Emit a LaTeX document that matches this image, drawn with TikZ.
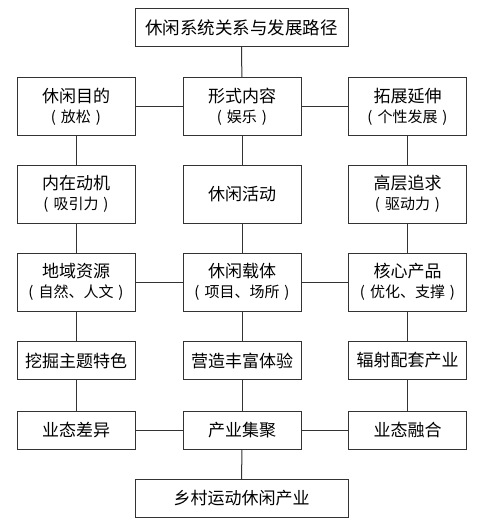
\documentclass[tikz,border=0pt]{standalone}
\usepackage{fontspec}
\setmainfont{Noto Sans CJK SC}
\newcommand{\kuoL}{\makebox[1em][c]{(}}
\newcommand{\kuoR}{\makebox[1em][c]{)}}
\newcommand{\subtxt}[1]{{\fontsize{15}{20}\selectfont\kuoL#1\kuoR}}
\begin{document}
\begin{tikzpicture}[x=1pt,y=-1pt,
  box/.style={draw=black!80, line width=1pt, minimum width=118pt, inner sep=0pt, align=center, font=\fontsize{17}{20}\selectfont},
  tall/.style={box, minimum height=58pt},
  low/.style={box, minimum height=38pt},
  wide/.style={low, minimum width=213pt},
  link/.style={draw=black!80, line width=1pt}]
\fill[white] (0,0) rectangle (495,527);
\useasboundingbox (0,0) rectangle (495,527);
% top and bottom
\node[wide, font=\fontsize{17.5}{20}\selectfont] (title) at (241.5,27.5) {休闲系统关系与发展路径};
\node[wide] (xiangcun) at (241.5,498.5) {乡村运动休闲产业};
% row 2
\node[tall] (mudi) at (76,106.5) {休闲目的\\\subtxt{放松}};
\node[tall] (neirong) at (242,106.5) {形式内容\\\subtxt{娱乐}};
\node[tall] (tuozhan) at (407.5,106.5) {拓展延伸\\\subtxt{个性发展}};
% row 3
\node[tall] (dongji) at (76,194) {内在动机\\\subtxt{吸引力}};
\node[tall] (huodong) at (242,194) {休闲活动};
\node[tall] (zhuiqiu) at (407.5,194) {高层追求\\\subtxt{驱动力}};
% row 4
\node[tall] (ziyuan) at (76,282) {地域资源\\\subtxt{自然、人文}};
\node[tall] (zaiti) at (242,282) {休闲载体\\\subtxt{项目、场所}};
\node[tall] (chanpin) at (407.5,282) {核心产品\\\subtxt{优化、支撑}};
% row 5
\node[low] (tese) at (76,360.5) {挖掘主题特色};
\node[low] (tiyan) at (242,360.5) {营造丰富体验};
\node[low] (peitao) at (407.5,360.5) {辐射配套产业};
% row 6
\node[low] (chayi) at (76,430) {业态差异};
\node[low] (jiju) at (242,430) {产业集聚};
\node[low] (ronghe) at (407.5,430) {业态融合};
% links
\draw[link] (title) -- (neirong);
\draw[link] (mudi) -- (neirong) -- (tuozhan);
\draw[link] (ziyuan) -- (zaiti) -- (chanpin);
\draw[link] (chayi) -- (jiju) -- (ronghe);
\draw[link] (mudi) -- (dongji) -- (ziyuan) -- (tese) -- (chayi);
\draw[link] (neirong) -- (huodong) -- (zaiti) -- (tiyan) -- (jiju);
\draw[link] (tuozhan) -- (zhuiqiu) -- (chanpin) -- (peitao) -- (ronghe);
\draw[link] (jiju) -- (xiangcun);
\end{tikzpicture}
\end{document}
